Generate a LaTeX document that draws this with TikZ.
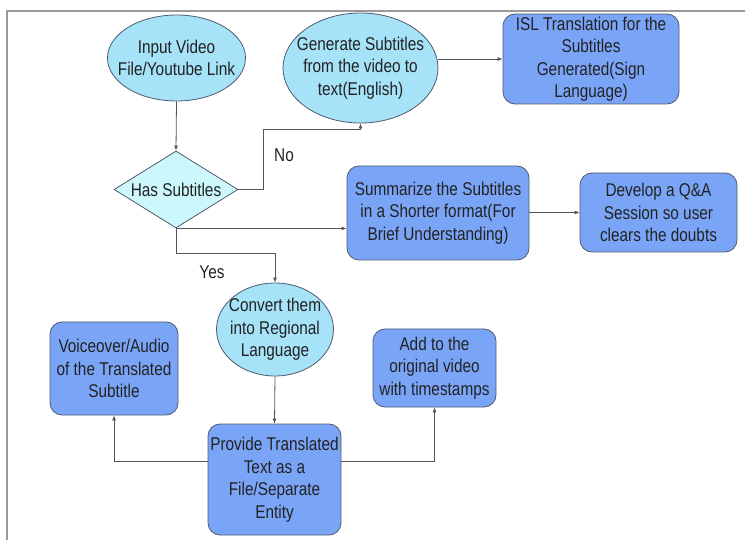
\documentclass[tikz,border=0pt]{standalone}
\usepackage{fontspec}
\setmainfont[FakeStretch=0.83]{Liberation Sans}
\usetikzlibrary{shapes.geometric,arrows.meta}
\definecolor{ellfill}{HTML}{A6E2F8}
\definecolor{diafill}{HTML}{CCF7FB}
\definecolor{boxfill}{HTML}{7AA5F7}
\definecolor{edge}{HTML}{505A6E}
\definecolor{wire}{HTML}{555555}
\definecolor{ink}{HTML}{222222}
\definecolor{frame}{HTML}{9A9A9A}
\tikzset{
  txt/.style={text=ink, align=center, inner sep=0pt, font=\fontsize{18.5}{22.5}\selectfont},
  ell/.style={ellipse, draw=edge, fill=ellfill, line width=0.8pt, inner sep=0pt},
  dia/.style={diamond, draw=edge, fill=diafill, line width=0.8pt, inner sep=0pt, aspect=1.6},
  bx/.style={rectangle, rounded corners=12pt, draw=edge, fill=boxfill, line width=0.8pt, txt},
  wirearrow/.style={draw=wire, line width=0.8pt, -{Latex[length=5pt,width=4pt]}},
  lbl/.style={txt}
}
\begin{document}
\begin{tikzpicture}[x=1pt,y=-1pt]
\useasboundingbox (0,0) rectangle (745,540);
% frame
\draw[frame, line width=1.6pt] (7,540) -- (7,11) -- (745,11);

% shapes
\node[ell, minimum width=138pt, minimum height=86pt] (e1) at (176.5,58) {};
\node[txt] (e1t) at (e1) {Input Video\\File/Youtube Link};

\node[ell, minimum width=155pt, minimum height=110pt] (e2) at (360.5,68) {};
\node[txt] (e2t) at (e2) {Generate Subtitles\\from the video to\\text(English)};

\node[bx, minimum width=176pt, minimum height=90pt] (isl) at (591,59) {ISL Translation for the\\Subtitles\\Generated(Sign\\Language)};

\node[dia, minimum width=124pt, minimum height=77pt] (d) at (176,189.5) {};
\node[txt] (dt) at (d) {Has Subtitles};

\node[bx, minimum width=182pt, minimum height=94pt] (sum) at (438,213) {Summarize the Subtitles\\in a Shorter format(For\\Brief Understanding)};

\node[bx, minimum width=157pt, minimum height=79pt] (dev) at (658.5,212.5) {Develop a Q\&A\\Session so user\\clears the doubts};

\node[ell, minimum width=117pt, minimum height=93pt] (conv) at (275,329.5) {};
\node[txt] (convt) at (conv) {Convert them\\into Regional\\Language};

\node[bx, minimum width=128pt, minimum height=93pt] (voice) at (114,368.5) {Voiceover/Audio\\of the Translated\\Subtitle};

\node[bx, minimum width=123pt, minimum height=78pt] (add) at (434.5,368) {Add to the\\original video\\with timestamps};

\node[bx, minimum width=133pt, minimum height=111pt] (prov) at (274.5,479.5) {Provide Translated\\Text as a\\File/Separate\\Entity};

% labels
\node[lbl] (no) at (284,155) {No};
\node[lbl] (yes) at (212,272) {Yes};

% connectors
\coordinate (nobend1) at (263,189.5);
\coordinate (nobend2) at (263,129);
\coordinate (yesbend) at (176,253);
\draw[wirearrow] (e1.south) -- (d.north);
\draw[wirearrow] (d.east) -- (nobend1) -- (nobend2) -| (e2.south);
\draw[wirearrow] (e2.east |- isl.west) -- (isl.west);
\draw[wirearrow] (d.south) -- (d.south -| sum.west);
\draw[wirearrow] (d.south) -- (yesbend) -| (conv.north);
\draw[wirearrow] (sum.east |- dev.west) -- (dev.west);
\draw[wirearrow] (conv.south) -- (prov.north);
\draw[wirearrow] ([yshift=18.5pt]prov.west) -| (voice.south);
\draw[wirearrow] ([yshift=18.5pt]prov.east) -| (add.south);
\end{tikzpicture}
\end{document}
